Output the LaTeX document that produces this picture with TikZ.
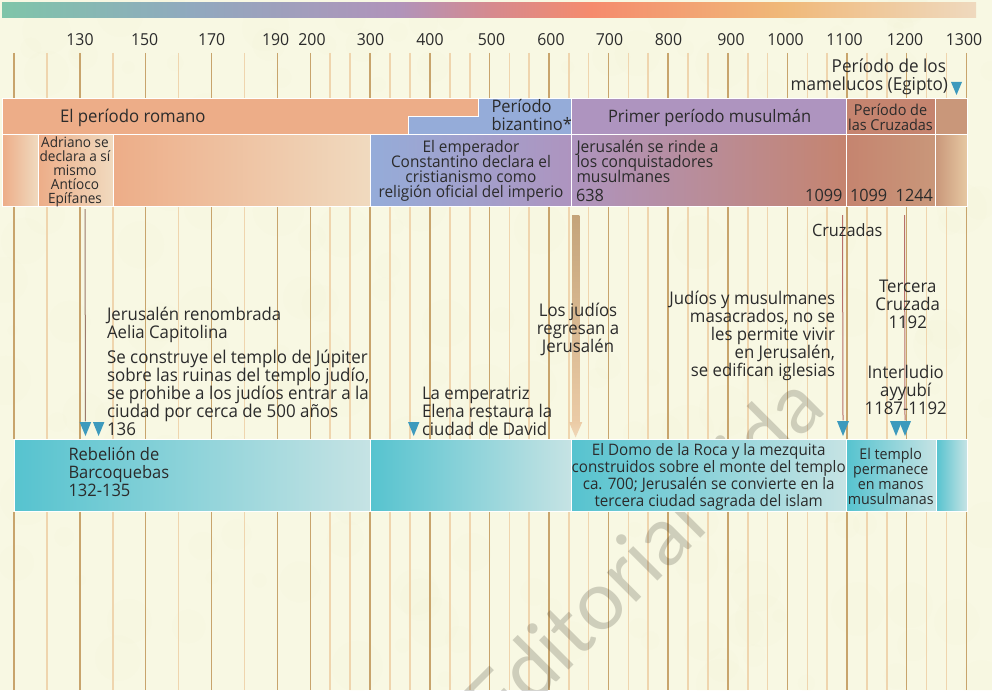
\documentclass[tikz,border=0pt]{standalone}
\usepackage{fontspec}
\setmainfont[Scale=0.97,FakeStretch=0.96]{Open Sans}
\newfontfamily\wmfont{Lato}
\usetikzlibrary{calc}
\definecolor{paper}{HTML}{F8F8E3}
\definecolor{blotch}{HTML}{EEF2CC}
\definecolor{tickmaj}{HTML}{C8A46C}
\definecolor{tickmin}{HTML}{EFD5AE}
\definecolor{ink}{HTML}{2B2B2B}
\definecolor{roman}{HTML}{EDAD88}
\definecolor{romanpale}{HTML}{F0DABF}
\definecolor{byz}{HTML}{95ACD9}
\definecolor{mus}{HTML}{AE94BF}
\definecolor{cruz}{HTML}{C5846F}
\definecolor{cruzb}{HTML}{C9977A}
\definecolor{cruzc}{HTML}{E6C8A2}
\definecolor{teal}{HTML}{56C3CF}
\definecolor{tealpale}{HTML}{C6E3E4}
\definecolor{tri}{HTML}{3D9ABD}
\definecolor{redline}{HTML}{B8706A}
\definecolor{brownline}{HTML}{9C7B6C}
\definecolor{shaftT}{HTML}{C4A47A}
\definecolor{shaftB}{HTML}{EBCBA6}
\definecolor{headB}{HTML}{F0D8B8}
\pgfdeclarehorizontalshading{stripshade}{100bp}{
 color(0bp)=({rgb,255:red,127;green,197;blue,169});
 color(25bp)=({rgb,255:red,127;green,197;blue,169});
 color(34.65bp)=({rgb,255:red,144;green,169;blue,190});
 color(45.4bp)=({rgb,255:red,177;green,147;blue,186});
 color(50bp)=({rgb,255:red,213;green,138;blue,143});
 color(55.2bp)=({rgb,255:red,245;green,139;blue,109});
 color(64.9bp)=({rgb,255:red,240;green,184;blue,120});
 color(75bp)=({rgb,255:red,239;green,217;blue,190});
 color(100bp)=({rgb,255:red,239;green,217;blue,190})}
\newcommand\ctext[3]{\vtop{\fontsize{#1}{#2}\selectfont\lineskiplimit=-100pt\halign{\hfil##\hfil\cr#3\crcr}}}
\newcommand\ltext[3]{\vtop{\fontsize{#1}{#2}\selectfont\lineskiplimit=-100pt\halign{##\hfil\cr#3\crcr}}}
\newcommand\rtext[3]{\vtop{\fontsize{#1}{#2}\selectfont\lineskiplimit=-100pt\halign{\hfil##\cr#3\crcr}}}
\tikzset{
 lab/.style={inner sep=0pt,outer sep=0pt,text=ink},
 labc/.style={lab,anchor=base},
 labl/.style={lab,anchor=base west},
 labr/.style={lab,anchor=base east},
 band/.style={draw=white,line width=0.9pt},
 marker/.style={fill=tri,draw=none},
 tickA/.style={draw=tickmaj,line width=1.05pt},
 tickB/.style={draw=tickmin,line width=1.05pt},
}
\begin{document}
\begin{tikzpicture}[x=1pt,y=-1pt]
\useasboundingbox (0,0) rectangle (992,690);
\fill[paper] (0,0) rectangle (992,690);
\begin{scope}
\clip (0,0) rectangle (992,690);
\pgfmathsetseed{4242}
\foreach \i in {1,...,200}{
  \pgfmathsetmacro\bx{rnd*992}
  \pgfmathsetmacro\by{rnd*690}
  \pgfmathsetmacro\br{5+rnd*22}
  \fill[blotch,opacity=0.07] (\bx,\by) circle (\br);
}
\end{scope}
% strip
\shade[shading=stripshade] (2,3) rectangle (976,18);
% ticks
\foreach \x in {14,80,145.7,211.7,277.7,310.3,370,430,489.5,549,608.7,668,728,787.7,847,906.7,966.7}{
  \draw[tickA] (\x,53) -- (\x,98);
  \draw[tickA] (\x,207) -- (\x,439);
  \draw[tickA] (\x,512) -- (\x,690);
}
\foreach \x in {47,113,178.7,244.7,330,350,390,410,450,470,509.3,529,569,588.7,628.5,648,688,708,748,767.7,807.7,827,867,887,926.7,946.7}{
  \draw[tickB] (\x,53) -- (\x,98);
  \draw[tickB] (\x,207) -- (\x,439);
  \draw[tickB] (\x,512) -- (\x,690);
}
% watermark
\begin{scope}
\clip (0,0) rectangle (992,690);
\node[inner sep=0pt,anchor=base west,rotate=45,text=black!75!olive,text opacity=0.22] (wm) at (500,739) {\wmfont\fontsize{82}{82}\selectfont Editorial\hskip 5pt Vida};
\end{scope}
% period row
\fill[roman,band] (2.5,98.5) -- (478.5,98.5) -- (478.5,116.5) -- (408.5,116.5) -- (408.5,134.5) -- (2.5,134.5) -- cycle;
\fill[byz,band] (478.5,98.5) -- (571.5,98.5) -- (571.5,134.5) -- (408.5,134.5) -- (408.5,116.5) -- (478.5,116.5) -- cycle;
\fill[mus,band] (571.5,98.5) rectangle (846.5,134.5);
\fill[cruz,band] (846.5,98.5) rectangle (935.5,134.5);
\fill[cruzb,band] (935.5,98.5) rectangle (967,134.5);
% second row
\shade[left color=roman,right color=romanpale,band] (2.5,134.5) rectangle (38,206.5);
\shade[left color=roman,right color=romanpale,band] (38,134.5) rectangle (113.5,206.5);
\shade[left color=roman,right color=romanpale,band] (113.5,134.5) rectangle (370.5,206.5);
\shade[left color=byz,right color=mus,band] (370.5,134.5) rectangle (571.5,206.5);
\shade[left color=mus,right color=cruz,band] (571.5,134.5) rectangle (846.5,206.5);
\shade[left color=cruz,right color=cruzb,band] (846.5,134.5) rectangle (935.5,206.5);
\shade[left color=cruzb,right color=cruzc,band] (935.5,134.5) rectangle (967,206.5);
% lower band
\shade[left color=teal,right color=tealpale,band] (14,439.5) rectangle (370.5,511.5);
\shade[left color=teal,right color=tealpale,band] (370.5,439.5) rectangle (571.5,511.5);
\shade[left color=teal,right color=tealpale,band] (571.5,439.5) rectangle (846.5,511.5);
\shade[left color=teal,right color=tealpale,band] (846.5,439.5) rectangle (936,511.5);
\shade[left color=teal,right color=tealpale,band] (936,439.5) rectangle (967,511.5);
% markers
\node[inner sep=0pt] (ma) at (85.5,422) {};
\node[inner sep=0pt] (mb) at (843,421) {};
\node[inner sep=0pt] (mc) at (905,421) {};
\coordinate (sa) at (85,209);
\coordinate (sb) at (842.5,215);
\coordinate (sc) at (904.5,215);
\draw[brownline,line width=1pt] (sa) -- (ma);
\draw[redline,line width=1pt] (sb) -- (mb);
\draw[redline,line width=1pt] (sc) -- (mc);
\fill[marker] (79.6,422) -- (91.2,422) -- (85.5,436) -- cycle;
\fill[marker] (92.9,422) -- (104.4,422) -- (98.6,436) -- cycle;
\fill[marker] (408,422) -- (419.4,422) -- (413.7,436) -- cycle;
\fill[marker] (951,82) -- (962,82) -- (956.5,95) -- cycle;
\fill[marker] (837,421) -- (849,421) -- (843,436) -- cycle;
\fill[marker] (890,421) -- (902,421) -- (896,436) -- cycle;
\fill[marker] (899,421) -- (911,421) -- (905,436) -- cycle;
% large arrow
\shade[top color=shaftT,bottom color=shaftB] (572,215) rectangle (579.3,423);
\shade[top color=shaftB,bottom color=headB] (569,422) -- (582.3,422) -- (575.6,437.5) -- cycle;
% axis labels
\foreach \t/\x in {130/80,150/144.7,170/211.6,190/275.7,200/312,300/370.5,400/430,500/491.5,600/551,700/609.5,800/668.5,900/731,1000/785.5,1100/844.5,1200/905,1300/964}{
  \node[labc] (y\t) at (\x,45.7) {\fontsize{17}{18}\selectfont\t};
}
\node[labr] (mamel) at (948,73) {\rtext{18.4}{18}{Período de los\hskip2pt\cr mamelucos (Egipto)\cr}};
\node[labl] (roma) at (60,122.7) {\ltext{18}{18}{El período romano\cr}};
\node[labl] (byzt) at (491.5,113) {\ltext{17.7}{17.7}{Período\cr bizantino*\cr}};
\node[labl] (prim) at (608,122.7) {\ltext{17.7}{18}{Primer período musulmán\cr}};
\node[labc] (pcru) at (890.5,115) {\ctext{15.5}{15}{Período de\cr las Cruzadas\cr}};
\node[labc] (adri) at (75,147) {\ctext{14.6}{14}{Adriano se\cr declara a sí\cr mismo\cr Antíoco\cr Epífanes\cr}};
\node[labc] (emp) at (471,152.7) {\ctext{16.5}{15}{El emperador\cr Constantino declara el\cr cristianismo como\cr religión oficial del imperio\cr}};
\node[labl] (rinde) at (576.5,152.5) {\ltext{16.7}{15.2}{Jerusalén se rinde a\cr los conquistadores\cr musulmanes\cr}};
\node[labl] (ya) at (576,201.7) {\fontsize{17.5}{18}\selectfont 638};
\node[labr] (yb) at (842.5,201.7) {\fontsize{17.5}{18}\selectfont 1099};
\node[labl] (yc) at (850,201.7) {\fontsize{17.5}{18}\selectfont 1099};
\node[labr] (yd) at (933,201.7) {\fontsize{17.5}{18}\selectfont 1244};
\node[labl] (cruza) at (812,236.7) {\ltext{17.5}{18}{Cruzadas\cr}};
\node[labc] (terc) at (907.7,292.7) {\ctext{18}{18}{Tercera\cr Cruzada\cr 1192\cr}};
\node[labc] (inter) at (905.7,378) {\ctext{18}{18}{Interludio\cr ayyubí\cr 1187-1192\cr}};
\node[labr] (judi) at (835,304) {\rtext{18}{18}{Judíos y musulmanes\cr masacrados, no se\cr les permite vivir\cr en Jerusalén,\cr se edifican iglesias\cr}};
\node[labc] (regr) at (578,316.7) {\ctext{18}{18}{Los judíos\cr regresan a\cr Jerusalén\cr}};
\node[labl] (aelia) at (107,320.7) {\ltext{18}{18}{Jerusalén renombrada\cr Aelia Capitolina\cr}};
\node[labl] (jupi) at (107,363.3) {\ltext{18.2}{18}{Se construye el templo de Júpiter\cr sobre las ruinas del templo judío,\cr se prohibe a los judíos entrar a la\cr ciudad por cerca de 500 años\cr 136\cr}};
\node[labl] (elen) at (422,399) {\ltext{18}{18}{La emperatriz\cr Elena restaura la\cr ciudad de David\cr}};
\node[labl] (barc) at (68.5,460) {\ltext{17.7}{18}{Rebelión de\cr Barcoquebas\cr 132-135\cr}};
\node[labc] (domo) at (708.7,455.3) {\ctext{16.3}{17}{El Domo de la Roca y la mezquita\cr construidos sobre el monte del templo\cr ca. 700; Jerusalén se convierte en la\cr tercera ciudad sagrada del islam\cr}};
\node[labc] (perm) at (890.7,459.3) {\ctext{15.3}{15.2}{El templo\cr permanece\cr en manos\cr musulmanas\cr}};
\end{tikzpicture}
\end{document}
